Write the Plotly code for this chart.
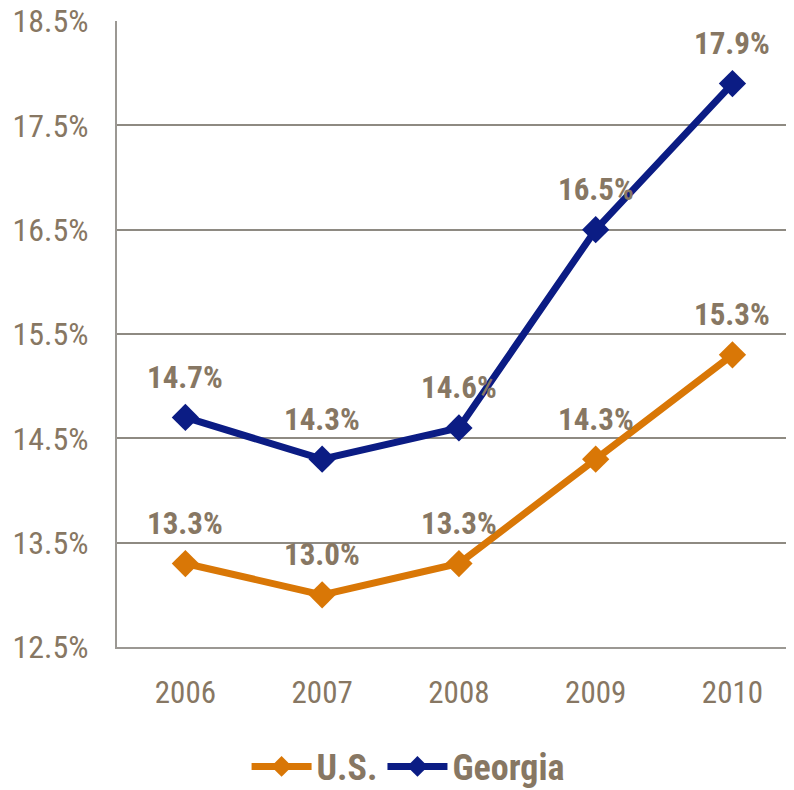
import plotly.graph_objects as go

# data
years = ["2006", "2007", "2008", "2009", "2010"]
us_rate = [13.3, 13.0, 13.3, 14.3, 15.3]
georgia_rate = [14.7, 14.3, 14.6, 16.5, 17.9]

y_ticks = [12.5, 13.5, 14.5, 15.5, 16.5, 17.5, 18.5]

TEXT = "#877763"
ORANGE = "#d97706"
NAVY = "#0b1c84"
FONT = "Roboto Condensed, Liberation Sans Narrow, sans-serif"

fig = go.Figure()

# one trace per series, diamonds on the line
for name, vals, col in [("U.S.", us_rate, ORANGE), ("Georgia", georgia_rate, NAVY)]:
    fig.add_trace(go.Scatter(
        x=years, y=vals, name="<b>%s</b>" % name, mode="lines+markers",
        line=dict(color=col, width=7),
        marker=dict(symbol="diamond", size=21, color=col),
        hoverinfo="skip",
    ))

# value labels above each point
for vals in (us_rate, georgia_rate):
    for i, v in enumerate(vals):
        fig.add_annotation(
            x=i, y=v, xref="x", yref="y", text="<b>%.1f%%</b>" % v,
            showarrow=False, yshift=40,
            font=dict(family=FONT, size=31, color=TEXT),
        )

fig.update_xaxes(
    type="category", range=[-0.5, 4.45], automargin=False,
    showgrid=False, showline=True, linecolor="#9b9893", linewidth=2,
    ticks="", ticklabelstandoff=17,
    tickfont=dict(family=FONT, size=31, color=TEXT),
)
fig.update_yaxes(
    range=[12.5, 18.5], tickvals=y_ticks, automargin=False,
    ticktext=["%.1f%%" % t for t in y_ticks],
    showgrid=True, gridcolor="#8e8a82", gridwidth=2,
    showline=True, linecolor="#9b9893", linewidth=2,
    zeroline=False, ticks="", ticklabelstandoff=20,
    ticklabeloverflow="allow",
    tickfont=dict(family=FONT, size=32, color=TEXT),
)

# page has an 8px body margin, so the figure is 8px smaller each way
fig.update_layout(
    width=786, height=782,
    margin=dict(l=109, r=0, t=13, b=143, autoexpand=False),
    plot_bgcolor="white", paper_bgcolor="white",
    showlegend=True,
    legend=dict(
        orientation="h", xref="container", yref="container",
        x=0.509, xanchor="center", y=0.03, yanchor="middle",
        itemwidth=60, font=dict(family=FONT, size=36, color=TEXT),
        traceorder="normal",
    ),
)

fig.write_html("out.html")
